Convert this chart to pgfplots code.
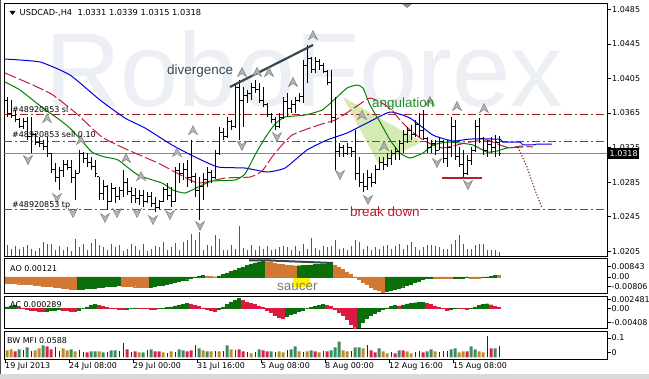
\documentclass[border=0pt]{standalone}
\usepackage{fontspec}
\setmainfont{DejaVu Sans}
\newfontfamily\arialf{Liberation Sans}
\usepackage{pgfplots}
\usepackage{pgfplotstable}
\pgfplotsset{compat=1.18}

\definecolor{mtblue}{RGB}{0,0,225}
\definecolor{mtred}{RGB}{200,25,60}
\definecolor{mtgreen}{RGB}{0,128,0}
\definecolor{slcol}{RGB}{165,40,40}
\definecolor{sellcol}{RGB}{30,130,30}
\definecolor{tpcol}{RGB}{205,30,40}
\definecolor{pricecol}{RGB}{120,136,150}
\definecolor{volgreen}{RGB}{30,125,30}
\definecolor{aogreen}{RGB}{10,110,10}
\definecolor{aoorange}{RGB}{210,120,50}
\definecolor{acred}{RGB}{220,25,65}
\definecolor{mfigreen}{RGB}{60,140,95}
\definecolor{mfibrown}{RGB}{185,140,45}
\definecolor{mfired}{RGB}{215,35,75}
\definecolor{mfiblue}{RGB}{25,25,140}
\definecolor{wm}{RGB}{236,239,243}
\definecolor{angfill}{RGB}{214,234,180}
\definecolor{divcol}{RGB}{55,72,80}
\definecolor{angtext}{RGB}{40,140,40}
\definecolor{bdtext}{RGB}{190,30,45}
\definecolor{sautext}{RGB}{125,125,105}
\definecolor{fracfill}{RGB}{180,180,180}
\definecolor{fracdraw}{RGB}{130,130,130}
\definecolor{projcol}{RGB}{130,10,10}
\definecolor{supcol}{RGB}{178,34,34}

\pgfdeclareplotmark{otick}{\pgfpathmoveto{\pgfpoint{-2bp}{0bp}}\pgfpathlineto{\pgfpoint{0bp}{0bp}}\pgfusepathqstroke}
\pgfdeclareplotmark{ctick}{\pgfpathmoveto{\pgfpoint{0bp}{0bp}}\pgfpathlineto{\pgfpoint{2bp}{0bp}}\pgfusepathqstroke}
\pgfdeclareplotmark{fup}{\pgfpathmoveto{\pgfpoint{0bp}{4.5bp}}\pgfpathlineto{\pgfpoint{4.5bp}{-4.5bp}}\pgfpathlineto{\pgfpoint{0bp}{-1.5bp}}\pgfpathlineto{\pgfpoint{-4.5bp}{-4.5bp}}\pgfpathclose\pgfusepathqfillstroke}
\pgfdeclareplotmark{fdown}{\pgfpathmoveto{\pgfpoint{0bp}{-4.5bp}}\pgfpathlineto{\pgfpoint{4.5bp}{4.5bp}}\pgfpathlineto{\pgfpoint{0bp}{1.5bp}}\pgfpathlineto{\pgfpoint{-4.5bp}{4.5bp}}\pgfpathclose\pgfusepathqfillstroke}

\pgfplotsset{
  panel/.style={
    anchor=south west, scale only axis, width=603bp,
    xmin=-0.75, xmax=150,
    axis line style={black, line width=1bp},
    tick style={black, line width=0.8bp},
    ytick pos=right, yticklabel pos=right, ytick align=outside,
    major tick length=3.5bp,
    yticklabel style={font=\fontsize{8}{9}\selectfont, anchor=west, inner sep=0pt, xshift=1bp},
    scaled y ticks=false,
    unbounded coords=discard,
  }
}

\pgfplotstableread{
i O H L C
0 1.0380 1.0384 1.0360 1.0365
1 1.0365 1.0380 1.0359 1.0362
2 1.0362 1.0369 1.0355 1.0357
3 1.0357 1.0359 1.0348 1.0350
4 1.0350 1.0359 1.0347 1.0355
5 1.0355 1.0360 1.0334 1.0338
6 1.0338 1.0360 1.0319 1.0340
7 1.0340 1.0342 1.0328 1.0331
8 1.0331 1.0337 1.0326 1.0330
9 1.0330 1.0334 1.0322 1.0326
10 1.0326 1.0337 1.0314 1.0318
11 1.0318 1.0319 1.0295 1.0300
12 1.0300 1.0307 1.0285 1.0290
13 1.0290 1.0302 1.0276 1.0298
14 1.0298 1.0311 1.0291 1.0305
15 1.0305 1.0311 1.0299 1.0302
16 1.0302 1.0311 1.0284 1.0290
17 1.0290 1.0299 1.0264 1.0295
18 1.0295 1.0322 1.0295 1.0318
19 1.0318 1.0320 1.0307 1.0312
20 1.0312 1.0319 1.0302 1.0308
21 1.0308 1.0314 1.0299 1.0303
22 1.0303 1.0311 1.0291 1.0295
23 1.0291 1.0291 1.0264 1.0272
24 1.0272 1.0287 1.0264 1.0280
25 1.0280 1.0282 1.0253 1.0262
26 1.0262 1.0284 1.0262 1.0278
27 1.0278 1.0279 1.0261 1.0268
28 1.0268 1.0279 1.0264 1.0275
29 1.0275 1.0299 1.0268 1.0285
30 1.0285 1.0290 1.0270 1.0274
31 1.0274 1.0279 1.0261 1.0270
32 1.0270 1.0278 1.0261 1.0266
33 1.0266 1.0276 1.0258 1.0270
34 1.0270 1.0276 1.0256 1.0262
35 1.0262 1.0274 1.0261 1.0268
36 1.0268 1.0274 1.0256 1.0260
37 1.0260 1.0268 1.0250 1.0255
38 1.0255 1.0264 1.0254 1.0262
39 1.0262 1.0279 1.0262 1.0276
40 1.0276 1.0284 1.0264 1.0270
41 1.0270 1.0279 1.0256 1.0262
42 1.0262 1.0302 1.0262 1.0298
43 1.0298 1.0307 1.0284 1.0295
44 1.0295 1.0307 1.0287 1.0300
45 1.0300 1.0311 1.0279 1.0290
46 1.0290 1.0334 1.0284 1.0292
47 1.0292 1.0295 1.0268 1.0275
48 1.0275 1.0291 1.0241 1.0280
49 1.0280 1.0295 1.0264 1.0288
50 1.0288 1.0302 1.0279 1.0296
51 1.0296 1.0299 1.0284 1.0290
52 1.0290 1.0322 1.0289 1.0318
53 1.0318 1.0349 1.0316 1.0342
54 1.0342 1.0348 1.0334 1.0338
55 1.0338 1.0360 1.0336 1.0355
56 1.0355 1.0357 1.0345 1.0350
57 1.0350 1.0400 1.0348 1.0395
58 1.0395 1.0403 1.0334 1.0380
59 1.0380 1.0395 1.0349 1.0385
60 1.0385 1.0392 1.0377 1.0388
61 1.0388 1.0400 1.0380 1.0395
62 1.0395 1.0403 1.0388 1.0392
63 1.0392 1.0400 1.0377 1.0380
64 1.0380 1.0395 1.0372 1.0375
65 1.0375 1.0377 1.0360 1.0363
66 1.0363 1.0365 1.0353 1.0358
67 1.0358 1.0360 1.0345 1.0350
68 1.0350 1.0365 1.0348 1.0360
69 1.0360 1.0384 1.0358 1.0378
70 1.0378 1.0388 1.0360 1.0370
71 1.0370 1.0380 1.0365 1.0375
72 1.0375 1.0384 1.0365 1.0380
73 1.0380 1.0388 1.0378 1.0384
74 1.0384 1.0426 1.0377 1.0420
75 1.0420 1.0444 1.0400 1.0428
76 1.0428 1.0430 1.0411 1.0415
77 1.0415 1.0430 1.0411 1.0425
78 1.0425 1.0428 1.0415 1.0420
79 1.0420 1.0423 1.0411 1.0413
80 1.0413 1.0415 1.0397 1.0400
81 1.0400 1.0415 1.0353 1.0360
82 1.0360 1.0384 1.0299 1.0320
83 1.0320 1.0330 1.0314 1.0325
84 1.0325 1.0328 1.0314 1.0318
85 1.0318 1.0330 1.0316 1.0325
86 1.0325 1.0326 1.0314 1.0320
87 1.0320 1.0345 1.0287 1.0295
88 1.0295 1.0314 1.0279 1.0285
89 1.0285 1.0295 1.0274 1.0280
90 1.0280 1.0299 1.0276 1.0290
91 1.0290 1.0295 1.0279 1.0285
92 1.0285 1.0305 1.0283 1.0300
93 1.0300 1.0314 1.0299 1.0308
94 1.0308 1.0314 1.0299 1.0305
95 1.0305 1.0319 1.0302 1.0312
96 1.0312 1.0322 1.0305 1.0318
97 1.0318 1.0326 1.0311 1.0320
98 1.0320 1.0334 1.0311 1.0330
99 1.0330 1.0345 1.0319 1.0340
100 1.0340 1.0349 1.0330 1.0345
101 1.0345 1.0351 1.0334 1.0340
102 1.0340 1.0357 1.0337 1.0352
103 1.0352 1.0365 1.0337 1.0345
104 1.0345 1.0369 1.0334 1.0336
105 1.0336 1.0337 1.0319 1.0325
106 1.0325 1.0334 1.0319 1.0330
107 1.0330 1.0334 1.0316 1.0322
108 1.0322 1.0337 1.0322 1.0332
109 1.0332 1.0334 1.0307 1.0312
110 1.0312 1.0334 1.0302 1.0325
111 1.0325 1.0360 1.0314 1.0350
112 1.0350 1.0357 1.0311 1.0315
113 1.0315 1.0326 1.0302 1.0305
114 1.0305 1.0322 1.0291 1.0295
115 1.0295 1.0316 1.0293 1.0310
116 1.0310 1.0326 1.0305 1.0322
117 1.0322 1.0357 1.0320 1.0350
118 1.0350 1.0359 1.0330 1.0335
119 1.0335 1.0337 1.0316 1.0322
120 1.0322 1.0334 1.0314 1.0328
121 1.0328 1.0337 1.0319 1.0325
122 1.0325 1.0340 1.0314 1.0331
123 1.0331 1.0339 1.0315 1.0318
}\ohlc

\pgfplotstableread{
i v c
0 -0.00498 0
1 -0.00515 0
2 -0.00531 0
3 -0.00556 0
4 -0.00581 0
5 -0.00606 0
6 -0.00631 0
7 -0.00664 0
8 -0.00697 0
9 -0.00730 0
10 -0.00764 0
11 -0.00797 0
12 -0.00830 0
13 -0.00872 0
14 -0.00913 0
15 -0.00955 0
16 -0.00996 0
17 -0.01046 0
18 -0.01021 1
19 -0.00996 1
20 -0.00963 1
21 -0.00930 1
22 -0.00896 1
23 -0.00863 1
24 -0.00830 1
25 -0.00797 1
26 -0.00764 1
27 -0.00730 1
28 -0.00706 1
29 -0.00730 0
30 -0.00755 0
31 -0.00780 0
32 -0.00805 0
33 -0.00830 0
34 -0.00855 0
35 -0.00880 0
36 -0.00830 1
37 -0.00764 1
38 -0.00706 1
39 -0.00647 1
40 -0.00581 1
41 -0.00515 1
42 -0.00448 1
43 -0.00374 1
44 -0.00299 1
45 -0.00224 1
46 -0.00125 1
47 -0.00042 1
48 0.00066 1
49 0.00125 1
50 0.00083 0
51 0.00042 0
52 0.00025 0
53 0.00100 1
54 0.00208 1
55 0.00332 1
56 0.00457 1
57 0.00581 1
58 0.00706 1
59 0.00830 1
60 0.00955 1
61 0.01079 1
62 0.01179 1
63 0.01262 1
64 0.01328 1
65 0.01262 0
66 0.01204 0
67 0.01145 0
68 0.01096 0
69 0.01046 0
70 0.00996 0
71 0.00946 0
72 0.00913 0
73 0.00938 1
74 0.00963 1
75 0.00988 1
76 0.01013 1
77 0.01038 1
78 0.01062 1
79 0.01079 1
80 0.01096 1
81 0.01112 1
82 0.00996 0
83 0.00830 0
84 0.00623 0
85 0.00415 0
86 0.00208 0
87 -0.00017 0
88 -0.00208 0
89 -0.00415 0
90 -0.00623 0
91 -0.00830 0
92 -0.00996 0
93 -0.01121 0
94 -0.01245 0
95 -0.01187 1
96 -0.01104 1
97 -0.01013 1
98 -0.00913 1
99 -0.00805 1
100 -0.00689 1
101 -0.00564 1
102 -0.00440 1
103 -0.00324 1
104 -0.00216 1
105 -0.00125 1
106 -0.00066 1
107 -0.00083 0
108 -0.00100 0
109 -0.00108 0
110 -0.00125 0
111 -0.00133 0
112 -0.00108 1
113 -0.00083 1
114 -0.00066 1
115 -0.00042 1
116 -0.00066 0
117 -0.00091 0
118 -0.00108 0
119 -0.00050 1
120 0.00017 1
121 0.00066 1
122 0.00133 1
123 0.00121 0
}\aotab

\pgfplotstableread{
i v c
0 0.00042 1
1 0.00062 1
2 0.00079 1
3 0.00042 0
4 0.00014 0
5 -0.00014 0
6 -0.00042 0
7 -0.00062 0
8 -0.00079 0
9 -0.00085 0
10 -0.00071 1
11 -0.00057 1
12 -0.00042 1
13 -0.00028 1
14 -0.00045 0
15 -0.00062 0
16 -0.00079 0
17 -0.00085 0
18 -0.00042 1
19 0.00000 1
20 0.00042 1
21 0.00079 1
22 0.00108 1
23 0.00085 0
24 0.00057 0
25 0.00028 0
26 0.00008 0
27 -0.00008 0
28 -0.00023 0
29 -0.00034 0
30 -0.00017 1
31 0.00000 1
32 0.00014 1
33 0.00008 0
34 0.00003 0
35 -0.00006 0
36 -0.00014 0
37 -0.00023 0
38 -0.00008 1
39 0.00008 1
40 0.00025 1
41 0.00042 1
42 0.00065 1
43 0.00091 1
44 0.00116 1
45 0.00142 1
46 0.00122 0
47 0.00091 0
48 0.00057 0
49 0.00014 0
50 -0.00028 0
51 -0.00062 0
52 -0.00085 0
53 -0.00028 1
54 0.00042 1
55 0.00113 1
56 0.00184 1
57 0.00241 1
58 0.00283 1
59 0.00226 0
60 0.00184 0
61 0.00142 0
62 0.00108 0
63 0.00071 0
64 0.00028 0
65 -0.00042 0
66 -0.00113 0
67 -0.00184 0
68 -0.00241 0
69 -0.00283 0
70 -0.00226 1
71 -0.00170 1
72 -0.00127 1
73 -0.00085 1
74 -0.00042 1
75 0.00000 1
76 0.00028 1
77 0.00057 1
78 0.00085 1
79 0.00113 1
80 0.00091 0
81 0.00051 0
82 -0.00014 0
83 -0.00099 0
84 -0.00198 0
85 -0.00311 0
86 -0.00439 0
87 -0.00549 0
88 -0.00524 1
89 -0.00396 1
90 -0.00283 1
91 -0.00198 1
92 -0.00127 1
93 -0.00071 1
94 -0.00028 1
95 0.00014 1
96 0.00051 1
97 0.00085 1
98 0.00068 0
99 0.00099 1
100 0.00127 1
101 0.00147 1
102 0.00158 1
103 0.00167 1
104 0.00173 1
105 0.00142 0
106 0.00108 0
107 0.00071 0
108 0.00034 0
109 0.00008 0
110 -0.00042 0
111 -0.00014 1
112 0.00014 1
113 0.00006 0
114 -0.00006 0
115 -0.00014 0
116 0.00008 1
117 0.00042 1
118 0.00079 1
119 0.00113 1
120 0.00130 1
121 0.00102 0
122 0.00062 0
123 0.000289 0
}\actab

\pgfplotstableread{
i v c
0 0.0371 2
1 0.0424 2
2 0.0318 3
3 0.0424 1
4 0.0371 4
5 0.0530 1
6 0.0318 4
7 0.0371 2
8 0.0477 2
9 0.0636 1
10 0.0583 3
11 0.0424 3
12 0.0530 4
13 0.0318 4
14 0.0477 2
15 0.0371 2
16 0.0424 1
17 0.0318 2
18 0.0371 4
19 0.0265 4
20 0.0265 3
21 0.0318 1
22 0.0318 1
23 0.0318 2
24 0.0265 1
25 0.0265 4
26 0.0371 1
27 0.0371 1
28 0.0318 4
29 0.0795 4
30 0.0424 3
31 0.0265 4
32 0.0318 3
33 0.0265 2
34 0.0265 1
35 0.0371 4
36 0.0424 1
37 0.0318 3
38 0.0318 3
39 0.0265 2
40 0.0212 4
41 0.0318 2
42 0.0265 4
43 0.0424 1
44 0.0371 1
45 0.0318 3
46 0.0371 3
47 0.0636 4
48 0.0477 1
49 0.0371 2
50 0.0318 1
51 0.0318 2
52 0.0318 4
53 0.0318 2
54 0.0318 4
55 0.0636 1
56 0.0424 2
57 0.0371 4
58 0.0424 3
59 0.0318 3
60 0.0265 4
61 0.0212 2
62 0.0265 4
63 0.0424 1
64 0.0371 3
65 0.0318 3
66 0.0318 1
67 0.0265 4
68 0.0318 2
69 0.0265 2
70 0.0371 4
71 0.0424 1
72 0.0583 1
73 0.0318 2
74 0.0265 4
75 0.0318 2
76 0.0371 1
77 0.0318 3
78 0.0265 2
79 0.0318 4
80 0.0318 3
81 0.0371 1
82 0.0530 1
83 0.0848 1
84 0.0371 2
85 0.0318 2
86 0.0318 4
87 0.0530 1
88 0.0530 1
89 0.0477 2
90 0.0636 4
91 0.0371 3
92 0.0265 3
93 0.0477 1
94 0.0318 2
95 0.0212 2
96 0.0265 4
97 0.0212 3
98 0.0371 1
99 0.0371 3
100 0.0318 2
101 0.0212 2
102 0.0265 4
103 0.0318 4
104 0.0265 3
105 0.0318 1
106 0.0424 1
107 0.0318 2
108 0.0265 4
109 0.0318 4
110 0.0318 4
111 0.0424 1
112 0.0477 1
113 0.0265 2
114 0.0318 2
115 0.0318 3
116 0.0583 1
117 0.0424 1
118 0.0318 2
119 0.0265 2
120 0.1166 4
121 0.0477 3
122 0.0477 1
123 0.0588 4
}\mfitab

\begin{document}
\begin{tikzpicture}
\path[use as bounding box] (0,0) rectangle (649bp,379bp);
\fill[white] (0,0) rectangle (649bp,379bp);
\fill[black!15] (0,0) rectangle (649bp,4.5bp);
\draw[black!70, line width=1.2bp] (0.6bp,4.5bp) -- (0.6bp,379bp);

% watermark
\node[anchor=base west, inner sep=0pt, text=wm, font=\arialf\fontsize{105}{110}\selectfont] at (45bp,272bp) {RoboForex};

% volume overlay
\begin{axis}[at={(4bp,122bp)}, anchor=south west, scale only axis, width=603bp, height=253bp,
  xmin=-0.75, xmax=150, ymin=0, ymax=25300, axis lines=none, ticks=none]
\addplot[ycomb, volgreen, line width=1bp] coordinates {
(0,1200)(1,800)(2,1100)(3,800)(4,1000)(5,1200)(6,800)(7,600)(8,900)(9,1500)
(10,1300)(11,1300)(12,700)(13,1100)(14,700)(15,1000)(16,600)(17,1800)(18,1000)(19,1300)
(20,700)(21,1400)(22,1800)(23,1200)(24,1000)(25,700)(26,1300)(27,1000)(28,1200)(29,600)
(30,800)(31,1300)(32,1100)(33,700)(34,1300)(35,600)(36,800)(37,1100)(38,1000)(39,1500)
(40,700)(41,1000)(42,1400)(43,700)(44,1500)(45,1700)(46,2300)(47,1700)(48,2500)(49,700)
(50,1200)(51,1100)(52,2200)(53,1800)(54,700)(55,700)(56,1200)(57,800)(58,3100)(59,900)
(60,700)(61,1200)(62,700)(63,1100)(64,800)(65,1100)(66,700)(67,800)(68,1000)(69,1100)
(70,1000)(71,700)(72,1100)(73,600)(74,1300)(75,800)(76,1900)(77,900)(78,700)(79,1100)
(80,1000)(81,1100)(82,1700)(83,800)(84,900)(85,700)(86,1100)(87,1700)(88,1500)(89,800)
(90,1100)(91,700)(92,1000)(93,800)(94,1100)(95,1200)(96,800)(97,1100)(98,1300)(99,800)
(100,1200)(101,1500)(102,1000)(103,700)(104,1000)(105,1200)(106,1200)(107,1100)(108,1000)(109,800)
(110,800)(111,1300)(112,1700)(113,2200)(114,1300)(115,800)(116,800)(117,1200)(118,1300)(119,1300)
(120,700)(121,700)(122,700)(123,500)};
\end{axis}

% main price panel
\begin{axis}[panel, at={(4bp,122bp)}, height=253bp,
  ymin=1.01982, ymax=1.04914, xtick=\empty, major tick length=4bp,
  ytick={1.0205,1.0245,1.0285,1.0325,1.0365,1.0405,1.0445,1.0485},
  yticklabel style={/pgf/number format/.cd, fixed, fixed zerofill, precision=4, assume math mode=true}]
\addplot[fill=angfill, draw=none] coordinates {(84,1.03836) (103.75,1.03314) (92.75,1.03071) (84,1.03836)};
\addplot[pricecol, line width=1bp] coordinates {(-0.75,1.0318) (150,1.0318)};
\addplot[slcol, line width=1bp, dash pattern=on 8bp off 3bp on 2bp off 3bp] coordinates {(-0.75,1.03628) (150,1.03628)};
\addplot[sellcol, line width=1bp, dash pattern=on 8bp off 3bp on 2bp off 3bp] coordinates {(-0.75,1.03326) (150,1.03326)};
\addplot[tpcol, line width=1bp, dash pattern=on 8bp off 3bp on 2bp off 3bp] coordinates {(-0.75,1.02527) (150,1.02527)};
% alligator
\addplot[mtblue, line width=1bp, smooth, tension=0.3] coordinates {
(-0.5,1.04276)(8.25,1.04242)(15.75,1.04091)(23.25,1.03801)(29.5,1.03592)(34.5,1.03477)
(41.25,1.03280)(47,1.03141)(52.75,1.03025)(59.5,1.03013)(65,1.02967)(69.5,1.03013)
(75,1.03222)(80,1.03338)(85,1.03419)(90,1.03535)(95.75,1.03662)(100.75,1.03592)
(106.5,1.03395)(111.5,1.03326)(115.75,1.03349)(123.25,1.03349)};
\addplot[mtblue, line width=1bp] coordinates {(123.25,1.03349)(124,1.03314)(128.25,1.03314)(129,1.03280)(131.5,1.03280)(132.5,1.03291)(136.25,1.03291)};
\addplot[mtred, line width=1bp, dash pattern=on 12bp off 3bp, smooth, tension=0.3] coordinates {
(-0.5,1.04114)(6.5,1.03975)(11.5,1.03859)(17.5,1.03639)(23.75,1.03372)(30.25,1.03222)
(37.75,1.03071)(42,1.02967)(47.75,1.02839)(54.5,1.02897)(60.75,1.02909)(63.75,1.02978)
(66.25,1.03141)(68.75,1.03280)(71.25,1.03395)(75,1.03465)(78.75,1.03523)(82,1.03569)
(85.25,1.03662)(88.25,1.03755)(90.75,1.03824)(93.75,1.03766)(96.25,1.03685)(98.25,1.03569)
(100.75,1.03453)(104,1.03338)(106.5,1.03280)(109,1.03245)(112.5,1.03280)(115.75,1.03314)
(120,1.03338)(123.25,1.03280)(125.75,1.03245)(128.25,1.03268)(131.5,1.03256)};
\addplot[mtgreen, line width=1bp, smooth, tension=0.3] coordinates {
(-0.5,1.04010)(3.25,1.03917)(9,1.03708)(13.25,1.03569)(16.25,1.03453)(21.25,1.03198)
(24.5,1.03141)(27.75,1.03106)(32.75,1.02932)(38.75,1.02839)(41.5,1.02758)(44.5,1.02723)
(48.25,1.02804)(51.25,1.02862)(57,1.02874)(59.5,1.02944)(62,1.03164)(64.5,1.03361)
(67,1.03523)(69.5,1.03604)(74.5,1.03627)(78.75,1.03685)(82,1.03813)(85,1.03940)
(87.5,1.03975)(89,1.03940)(90.75,1.03743)(93.25,1.03546)(95.75,1.03338)(98.25,1.03187)
(100.75,1.03129)(104,1.03187)(106.5,1.03280)(110,1.03314)(113.25,1.03303)(116.5,1.03280)
(120,1.03198)(122.5,1.03210)(125,1.03245)(129,1.03256)};
\addplot[projcol, line width=1bp, dash pattern=on 1.2bp off 1.8bp] coordinates {(127.75,1.03256)(130,1.03025)(132,1.02758)(133.75,1.02549)};
% price bars
\addplot[only marks, mark=ctick, mark options={black, line width=1bp},
  error bars/.cd, y dir=both, y explicit, error mark=none, error bar style={black, line width=1bp}]
  table[x=i, y=C, y error plus expr=\thisrow{H}-\thisrow{C}, y error minus expr=\thisrow{C}-\thisrow{L}] {\ohlc};
\addplot[only marks, mark=otick, mark options={black, line width=1bp}] table[x=i, y=O] {\ohlc};
% annotations
\addplot[divcol, line width=2.2bp] coordinates {(55.75,1.03952) (76.5,1.04439)};
\addplot[supcol, line width=2.2bp] coordinates {(108.75,1.02897) (118.75,1.02897)};
% fractals
\addplot[only marks, mark=fup, mark options={fill=fracfill, draw=fracdraw, line width=0.5bp}] coordinates {
(10,1.03592)(18.5,1.03338)(29.75,1.03129)(33.5,1.02920)(42.5,1.03198)(46.5,1.03453)
(58.75,1.04126)(62.5,1.04126)(65.5,1.04126)(71.5,1.04010)(76.5,1.04554)(88.75,1.03627)
(94.25,1.03268)(105.75,1.03790)(112.5,1.03732)(119.25,1.03708)};
\addplot[only marks, mark=fdown, mark options={fill=fracfill, draw=fracdraw, line width=0.5bp}] coordinates {
(5.25,1.03106)(12.5,1.02665)(16.5,1.02491)(24.5,1.02434)(27.5,1.02491)(32.5,1.02491)
(36.5,1.02410)(40.75,1.02468)(48.25,1.02341)(58.75,1.03268)(67.5,1.03372)(83.25,1.02932)
(90.25,1.02642)(107.5,1.03071)(115.25,1.02816)};
\end{axis}

% AO panel
\begin{axis}[panel, at={(4bp,85bp)}, height=35bp,
  ymin=-0.01411, ymax=0.01494, xtick=\empty,
  ytick={-0.00806,0,0.00843}, yticklabels={-0.00806,0.00,0.00843}]
\addplot[fill=yellow, draw=none] coordinates {(71.5,-0.0083)(75.75,-0.0083)(75.75,0.00996)(71.5,0.00996)(71.5,-0.0083)};
\addplot[ybar, bar width=3bp, bar shift=0pt, fill=aogreen, draw=aogreen, line width=0.3bp] table[x=i, y expr={\thisrow{c}==1 ? \thisrow{v} : nan}] {\aotab};
\addplot[ybar, bar width=3bp, bar shift=0pt, fill=aoorange, draw=aoorange, line width=0.3bp] table[x=i, y expr={\thisrow{c}==0 ? \thisrow{v} : nan}] {\aotab};
\addplot[divcol, line width=2bp] coordinates {(60.5,0.0138) (65,0.0138) (81.5,0.0116)};
\end{axis}

% AC panel
\begin{axis}[panel, at={(4bp,50bp)}, height=33bp,
  ymin=-0.00586, ymax=0.00348, xtick=\empty,
  ytick={-0.00408,0,0.002481}, yticklabels={-0.00408,0.00,0.002481}]
\addplot[ybar, bar width=3bp, bar shift=0pt, fill=aogreen, draw=aogreen, line width=0.3bp] table[x=i, y expr={\thisrow{c}==1 ? \thisrow{v} : nan}] {\actab};
\addplot[ybar, bar width=3bp, bar shift=0pt, fill=acred, draw=acred, line width=0.3bp] table[x=i, y expr={\thisrow{c}==0 ? \thisrow{v} : nan}] {\actab};
\end{axis}

% BW MFI panel
\begin{axis}[panel, at={(4bp,20bp)}, height=28bp,
  ymin=-0.008, ymax=0.1405,
  ytick={0.0286,0.103}, yticklabels={0,0.1},
  xtick={-0.5,15.5,31.5,47.5,63.5,79.5,95.5,111.5},
  xticklabels={19 Jul 2013,24 Jul 08:00,29 Jul 00:00,31 Jul 16:00,5 Aug 08:00,8 Aug 00:00,12 Aug 16:00,15 Aug 08:00},
  xtick pos=bottom, xtick align=outside,
  xticklabel style={font=\fontsize{8}{9}\selectfont, anchor=north west, inner sep=0pt, xshift=0bp}]
\addplot[ybar, bar width=3bp, bar shift=0pt, fill=mfigreen, draw=none] table[x=i, y expr={\thisrow{c}==1 ? \thisrow{v} : nan}] {\mfitab};
\addplot[ybar, bar width=3bp, bar shift=0pt, fill=mfibrown, draw=none] table[x=i, y expr={\thisrow{c}==2 ? \thisrow{v} : nan}] {\mfitab};
\addplot[ybar, bar width=3bp, bar shift=0pt, fill=mfired, draw=none] table[x=i, y expr={\thisrow{c}==3 ? \thisrow{v} : nan}] {\mfitab};
\addplot[ycomb, mfiblue, line width=1bp] table[x=i, y expr={\thisrow{c}==4 ? \thisrow{v} : nan}] {\mfitab};
\end{axis}

% texts
\fill[black] (9.5bp,368bp) -- (15.5bp,368bp) -- (12.5bp,364bp) -- cycle;
\node[anchor=west, inner sep=0pt, font=\fontsize{8.3}{9}\selectfont] at (19.5bp,366.3bp) {USDCAD-,H4\ \ 1.0331 1.0339 1.0315 1.0318};
\fill[black!45] (402bp,375bp) -- (412bp,375bp) -- (407bp,371bp) -- cycle;
\node[anchor=west, inner sep=0pt, font=\fontsize{8}{9}\selectfont] at (12bp,269.5bp) {\#48920853 sl};
\node[anchor=west, inner sep=0pt, font=\fontsize{8}{9}\selectfont] at (12bp,244bp) {\#48920853 sell 0.10};
\node[anchor=west, inner sep=0pt, font=\fontsize{8}{9}\selectfont] at (12bp,174bp) {\#48920853 tp};
\node[anchor=base west, inner sep=0pt, text=divcol, font=\arialf\fontsize{13.5}{15}\selectfont] at (167bp,304bp) {divergence};
\node[anchor=base west, inner sep=0pt, text=angtext, font=\arialf\fontsize{13.5}{15}\selectfont] at (372bp,271.7bp) {angulation};
\node[anchor=base west, inner sep=0pt, text=bdtext, font=\arialf\fontsize{13.5}{15}\selectfont] at (350bp,162.3bp) {break down};
\node[anchor=base west, inner sep=0pt, text=sautext, font=\arialf\fontsize{13.5}{15}\selectfont] at (277bp,88bp) {saucer};
\node[anchor=west, inner sep=0pt, font=\fontsize{8}{9}\selectfont] at (10bp,110bp) {AO 0.00121};
\node[anchor=west, inner sep=0pt, font=\fontsize{8}{9}\selectfont] at (10bp,74bp) {AC 0.000289};
\node[anchor=west, inner sep=0pt, font=\fontsize{8}{9}\selectfont] at (7bp,38.3bp) {BW MFI 0.0588};
\node[anchor=west, fill=black, text=white, inner xsep=1.5bp, inner ysep=2bp, font=\fontsize{8}{9}\selectfont] at (608bp,225.5bp) {1.0318};
\end{tikzpicture}
\end{document}
